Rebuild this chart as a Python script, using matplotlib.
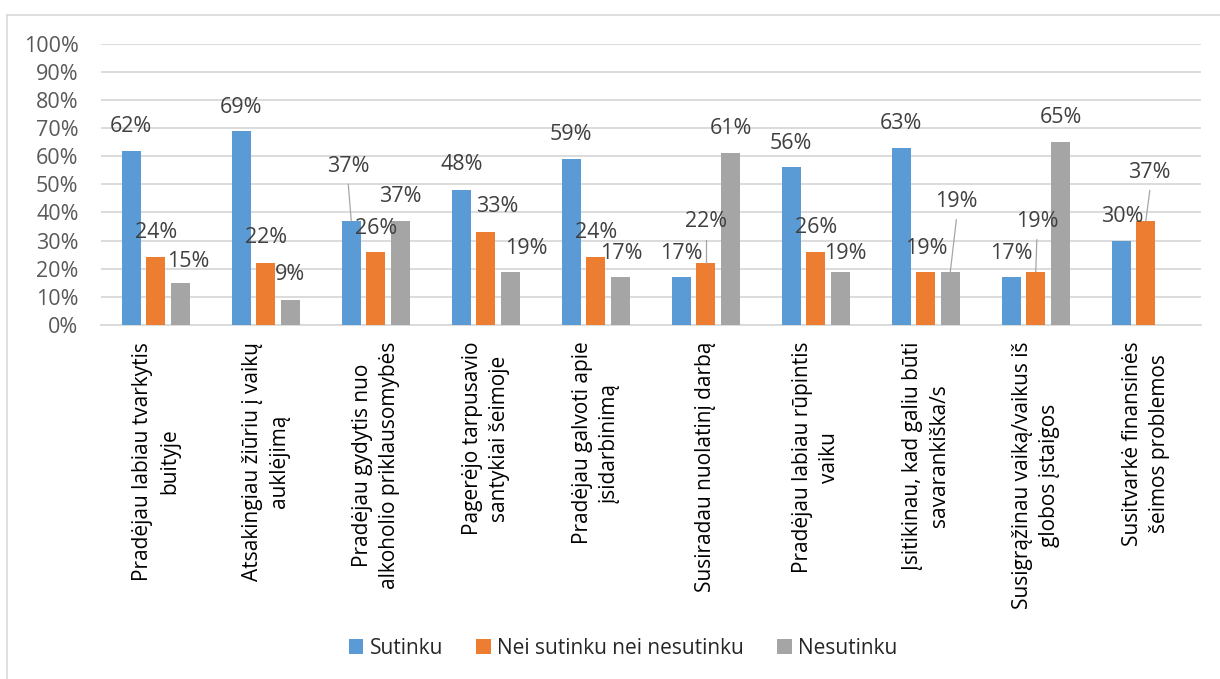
import matplotlib
matplotlib.use("Agg")
import matplotlib.pyplot as plt
from matplotlib.lines import Line2D
from matplotlib.ticker import FuncFormatter
import numpy as np

plt.rcParams['font.family'] = ['Open Sans', 'DejaVu Sans']

# data
categories = [
    "Pradėjau labiau tvarkytis\nbuityje",
    "Atsakingiau žiūriu į vaikų\nauklėjimą",
    "Pradėjau gydytis nuo\nalkoholio priklausomybės",
    "Pagerėjo tarpusavio\nsantykiai šeimoje",
    "Pradėjau galvoti apie\nįsidarbinimą",
    "Susiradau nuolatinį darbą",
    "Pradėjau labiau rūpintis\nvaiku",
    "Įsitikinau, kad galiu būti\nsavarankiška/s",
    "Susigrąžinau vaiką/vaikus iš\nglobos įstaigos",
    "Susitvarkė finansinės\nšeimos problemos",
]
series_names = ["Sutinku", "Nei sutinku nei nesutinku", "Nesutinku"]
sutinku = [62, 69, 37, 48, 59, 17, 56, 63, 17, 30]
nei_sutinku = [24, 22, 26, 33, 24, 22, 26, 19, 19, 37]
nesutinku = [15, 9, 37, 19, 17, 61, 19, 19, 65, None]

colors = ["#5B9BD5", "#ED7D31", "#A5A5A5"]

# label placement (manually moved labels in the original): centre height in %, x shift in px
label_y = [
    [70.4, 32.9, 22.5], [77.2, 31.0, 18.0], [56.4, 34.3, 45.6], [57.0, 42.0, 27.2],
    [67.7, 32.9, 25.4], [25.4, 36.7, 69.8], [64.5, 34.6, 25.4], [71.8, 27.2, 43.8],
    [25.4, 36.7, 73.6], [38.5, 54.2, None],
]
label_dx = [
    [0, 0, 8], [0, 0, 0], [-3, 0, 0], [0, 11, 16], [0, 0, 1],
    [0, 0, 1], [0, 0, 5], [0, 0, 6], [0, 1, 1], [1, 4, 0],
]
# (group, series) pairs that get a leader line
leaders = [(2, 0), (5, 1), (7, 2), (8, 1), (9, 1)]

W, H = 1220, 679
fig = plt.figure(figsize=(W / 100, H / 100), dpi=100)
ax = fig.add_axes([100.8 / W, 1 - 325 / H, 1100 / W, (325 - 43.7) / H])

x = np.arange(len(categories))
step = 0.223
bw = 0.17
all_series = [sutinku, nei_sutinku, nesutinku]
for s, vals in enumerate(all_series):
    xs = [xi + (s - 1) * step for xi, v in zip(x, vals) if v is not None]
    vs = [v for v in vals if v is not None]
    ax.bar(xs, vs, width=bw, color=colors[s], label=series_names[s], zorder=3)

px = 1 / 110.0  # one pixel in x data units
for g in range(len(categories)):
    for s, vals in enumerate(all_series):
        v = vals[g]
        if v is None:
            continue
        bx = g + (s - 1) * step
        lx = bx + label_dx[g][s] * px
        ly = label_y[g][s]
        ax.text(lx, ly, f"{v}%", ha='center', va='center', fontsize=15.5,
                color='#404040', zorder=5)
        if (g, s) in leaders:
            ax.plot([lx, bx], [ly - 6.4, v], color='#A6A6A6', lw=0.9, zorder=4)

ax.set_xlim(-0.5, len(categories) - 0.5)
ax.set_ylim(0, 100)
ax.set_yticks(np.arange(0, 101, 10))
ax.yaxis.set_major_formatter(FuncFormatter(lambda v, p: f"{int(v)}%"))
ax.grid(axis='y', color='#D9D9D9', lw=1.3, zorder=0)
for sp in ['top', 'right', 'left']:
    ax.spines[sp].set_visible(False)
ax.spines['bottom'].set_color('#D9D9D9')
ax.spines['bottom'].set_linewidth(1.3)
ax.tick_params(axis='y', length=0, labelsize=15.5, labelcolor='#595959', pad=16)
ax.tick_params(axis='x', length=0, pad=12)
ax.set_xticks(x)
ax.set_xticklabels(categories, rotation=90, fontsize=15, color='#000000',
                   multialignment='center', linespacing=1.4)

fig.legend(loc='center', bbox_to_anchor=(623 / W, 1 - 648 / H), ncol=3, frameon=False,
           fontsize=15, handlelength=0.7, handleheight=0.7, handletextpad=0.3,
           columnspacing=1.6, labelcolor='#262626')

# chart border (left and top edges visible)
fig.add_artist(Line2D([7 / W, 7 / W], [0, 1 - 14.7 / H], color='#D9D9D9', lw=1.2))
fig.add_artist(Line2D([7 / W, 1], [1 - 14.7 / H, 1 - 14.7 / H], color='#D9D9D9', lw=1.2))

fig.savefig("out.png", dpi=100)
